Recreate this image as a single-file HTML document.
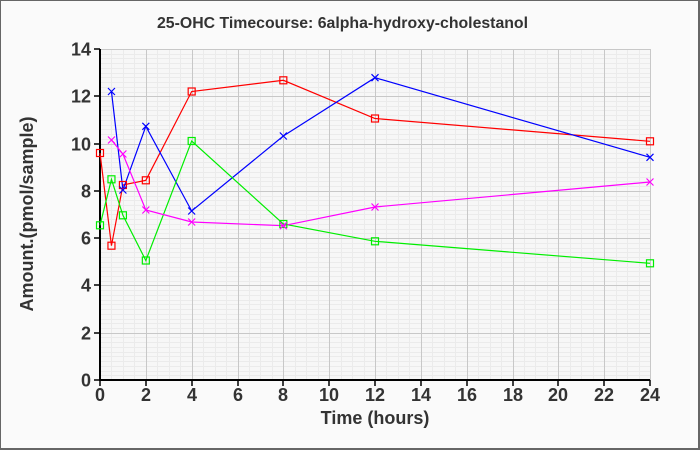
<!DOCTYPE html>
<html><head><meta charset="utf-8"><style>
html,body{margin:0;padding:0;}
body{width:700px;height:450px;overflow:hidden;background:#fafafa;}
svg{display:block;}
text{font-family:"Liberation Sans",Arial,sans-serif;font-weight:bold;fill:#333;}
</style></head><body>
<svg width="700" height="450" viewBox="0 0 700 450" xmlns="http://www.w3.org/2000/svg">
<rect x="0" y="0" width="700" height="450" fill="#fafafa"/>
<rect x="0.5" y="0.5" width="698" height="448" fill="none" stroke="#666" stroke-width="1"/>
<line x1="699" y1="0" x2="699" y2="450" stroke="#666" stroke-width="2"/>
<line x1="0" y1="449" x2="700" y2="449" stroke="#666" stroke-width="2"/>
<text x="157" y="28" font-size="15.5" textLength="371" lengthAdjust="spacingAndGlyphs" fill="#222">25-OHC Timecourse: 6alpha-hydroxy-cholestanol</text>
<rect x="100" y="49" width="550" height="331" fill="#f7f7f7"/>
<g id="minor" stroke="#ebebeb" stroke-width="1">
</g>
<g id="major" stroke="#c8c8c8" stroke-width="1">
</g>
<g id="axes" stroke="#000"></g>
<g id="labels"></g>
<g fill="none" stroke-width="1.2">
<polyline stroke="#ff0000" points="100,153 111.46,245.7 122.92,185 145.83,180.3 191.67,91.5 283.33,80.3 375,118.5 650,141.3"/>
<polyline stroke="#0000ff" points="111.46,91.5 122.92,190 145.83,126.3 191.67,211 283.33,136 375,77.7 650,157.3"/>
<polyline stroke="#00ee00" points="100,225.3 111.46,179.3 122.92,215.3 145.83,260.5 191.67,141 283.33,224 375,241.3 650,263.3"/>
<polyline stroke="#ff00ff" points="111.46,140 122.92,154 145.83,210 191.67,222 283.33,225.7 375,207 650,182"/>
</g>
<g id="markers" fill="none" stroke-width="1.2"></g>
<text transform="translate(33,214) rotate(-90)" font-size="18" text-anchor="middle">Amount.(pmol/sample)</text>
<text x="375" y="424" font-size="18" text-anchor="middle">Time (hours)</text>
<script>
(function(){
var NS="http://www.w3.org/2000/svg";
function px(t){return 100+t*550/24;}
function py(v){return 380-v*331/14;}
function el(p,tag,a){var e=document.createElementNS(NS,tag);for(var k in a)e.setAttribute(k,a[k]);p.appendChild(e);return e;}
var minor=document.getElementById('minor'),major=document.getElementById('major'),axes=document.getElementById('axes'),labels=document.getElementById('labels'),mk=document.getElementById('markers');
for(var t=0.5;t<24;t+=0.5){if(t%2!==0){var x=Math.round(px(t))+0.5;el(minor,'line',{x1:x,y1:49,x2:x,y2:380});}}
for(var v=0.2;v<14;v+=0.2){var r=Math.round(v*10);if(r%20!==0){var y=Math.round(py(v))+0.5;el(minor,'line',{x1:100,y1:y,x2:650,y2:y});}}
for(var t=2;t<=24;t+=2){var x=Math.round(px(t))+0.5;el(major,'line',{x1:x,y1:49,x2:x,y2:380});}
for(var v=2;v<=14;v+=2){var y=Math.round(py(v))+0.5;el(major,'line',{x1:100,y1:y,x2:650,y2:y});}
el(axes,'line',{x1:100,y1:49,x2:100,y2:381,'stroke-width':2});
el(axes,'line',{x1:99,y1:380,x2:650,y2:380,'stroke-width':2});
for(var t=0;t<=24;t+=2){var x=Math.round(px(t));el(axes,'line',{x1:x,y1:380,x2:x,y2:386,'stroke-width':1.5});
 var tx=el(labels,'text',{x:x,y:401,'font-size':18,'text-anchor':'middle'});tx.textContent=t;}
for(var v=0;v<=14;v+=2){var y=Math.round(py(v));el(axes,'line',{x1:94,y1:y,x2:100,y2:y,'stroke-width':1.5});
 var tx=el(labels,'text',{x:91,y:y+6.5,'font-size':18,'text-anchor':'end'});tx.textContent=v;}
function sq(c,pts){pts.forEach(function(p){el(mk,'rect',{x:p[0]-3.5,y:p[1]-3.5,width:7,height:7,stroke:c});});}
function xx(c,pts){pts.forEach(function(p){el(mk,'path',{d:'M'+(p[0]-3.5)+' '+(p[1]-3.5)+'L'+(p[0]+3.5)+' '+(p[1]+3.5)+'M'+(p[0]-3.5)+' '+(p[1]+3.5)+'L'+(p[0]+3.5)+' '+(p[1]-3.5),stroke:c});});}
sq('#ff0000',[[100,153],[111.46,245.7],[122.92,185],[145.83,180.3],[191.67,91.5],[283.33,80.3],[375,118.5],[650,141.3]]);
xx('#0000ff',[[111.46,91.5],[122.92,190],[145.83,126.3],[191.67,211],[283.33,136],[375,77.7],[650,157.3]]);
sq('#00ee00',[[100,225.3],[111.46,179.3],[122.92,215.3],[145.83,260.5],[191.67,141],[283.33,224],[375,241.3],[650,263.3]]);
xx('#ff00ff',[[111.46,140],[122.92,154],[145.83,210],[191.67,222],[283.33,225.7],[375,207],[650,182]]);
})();
</script>
</svg>
</body></html>
